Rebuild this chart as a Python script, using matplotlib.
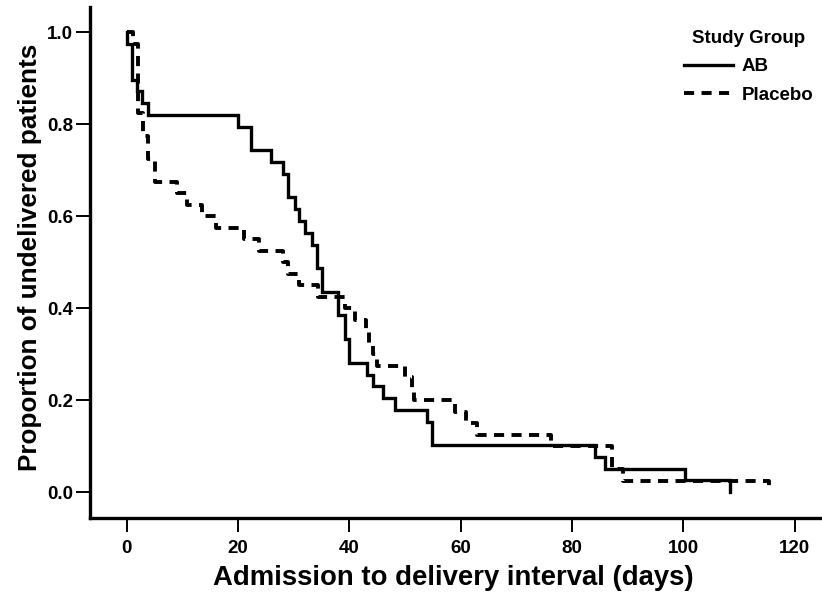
import matplotlib
matplotlib.use("Agg")
import matplotlib.pyplot as plt

plt.rcParams['font.family'] = ['Liberation Sans', 'DejaVu Sans']
plt.rcParams['font.weight'] = 'bold'

# Kaplan-Meier style step data (day of step, proportion after the step)
ab_days = [0, 0, 0.9, 1.8, 2.7, 3.9, 20.0, 22.4, 26.0, 28.1, 29.0, 30.2, 31.0,
           32.1, 33.2, 34.1, 35.0, 38.0, 39.2, 40.0, 43.1, 44.2, 46.1, 48.2,
           53.9, 54.8, 84.1, 86.0, 100.3, 108.3]
ab_prop = [1.0, 0.974, 0.897, 0.872, 0.846, 0.821, 0.795, 0.744, 0.718, 0.692,
           0.641, 0.615, 0.590, 0.564, 0.538, 0.487, 0.436, 0.385, 0.333, 0.282,
           0.256, 0.231, 0.205, 0.179, 0.154, 0.103, 0.077, 0.051, 0.026, 0.0]

pl_days = [0, 1.2, 2.0, 3.0, 3.9, 5.0, 9.0, 10.8, 13.6, 16.0, 21.1, 23.8, 28.0,
           29.0, 31.0, 34.3, 39.2, 41.0, 43.0, 43.6, 44.2, 44.9, 50.0, 51.2,
           51.6, 59.0, 61.0, 63.0, 76.3, 87.1, 89.2, 115.3]
pl_prop = [1.0, 0.975, 0.825, 0.775, 0.725, 0.675, 0.65, 0.625, 0.60, 0.575,
           0.55, 0.525, 0.50, 0.475, 0.45, 0.425, 0.40, 0.375, 0.35, 0.325,
           0.30, 0.275, 0.25, 0.225, 0.20, 0.175, 0.15, 0.125, 0.10, 0.05,
           0.025, 0.0]

x_ticks = [0, 20, 40, 60, 80, 100, 120]
y_ticks = [0.0, 0.2, 0.4, 0.6, 0.8, 1.0]

fig = plt.figure(figsize=(8.22, 5.98), dpi=100)
ax = fig.add_axes([0.1095, 0.1343, 0.8905, 0.854])

ax.step(ab_days, ab_prop, where='post', color='black', lw=2.4,
        solid_joinstyle='miter', label='AB')
ax.step(pl_days, pl_prop, where='post', color='black', lw=2.8,
        linestyle=(0, (2.6, 1.9)), dash_capstyle='butt', label='Placebo')

ax.set_xlim(-6.6, 124.9)
ax.set_ylim(-0.055, 1.055)
ax.set_xticks(x_ticks)
ax.set_yticks(y_ticks)
ax.set_yticklabels(['%.1f' % v for v in y_ticks])

for s in ['top', 'right']:
    ax.spines[s].set_visible(False)
for s in ['left', 'bottom']:
    ax.spines[s].set_linewidth(2.4)

ax.tick_params(axis='both', direction='out', length=10, width=1.4,
               labelsize=13.5)
ax.tick_params(axis='x', pad=6)
ax.tick_params(axis='y', pad=2)

ax.set_xlabel('Admission to delivery interval (days)', fontsize=19.8,
              fontweight='bold')
ax.set_ylabel('Proportion of undelivered patients', fontsize=18.8,
              fontweight='bold')
ax.xaxis.set_label_coords(0.4966, -0.093)
ax.yaxis.set_label_coords(-0.066, 0.509)

leg = ax.legend(title='Study Group', loc='upper right',
                bbox_to_anchor=(813 / 822, 1 - 30 / 598),
                bbox_transform=fig.transFigure, frameon=False,
                fontsize=13.5, title_fontsize=13.5, handlelength=2.6,
                handletextpad=0.45, labelspacing=0.6, borderpad=0,
                borderaxespad=0)
leg.get_title().set_fontweight('bold')

fig.savefig('out.png', dpi=100)
